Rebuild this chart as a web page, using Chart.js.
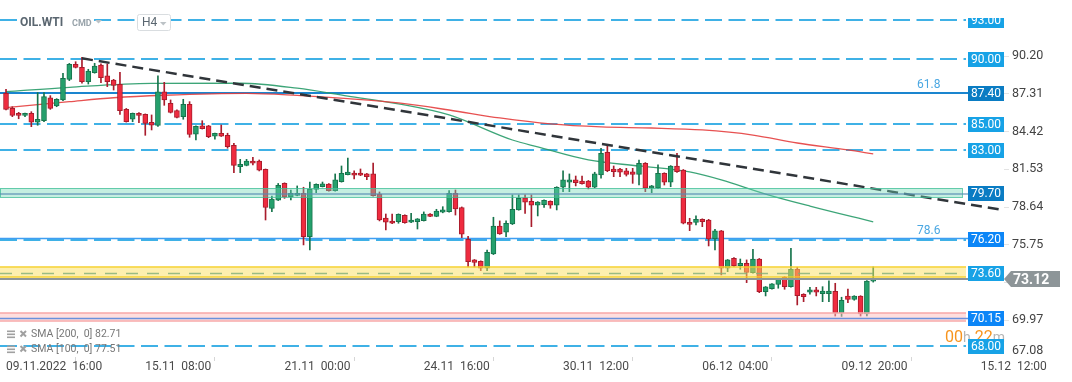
<!DOCTYPE html>
<html><head><meta charset="utf-8">
<script src="https://cdn.jsdelivr.net/npm/chart.js@4.4.0/dist/chart.umd.min.js"></script>
<style>html,body{margin:0;padding:0;background:#fff;}canvas{display:block;}</style>
</head><body>
<canvas id="c" width="1072" height="382"></canvas>
<script>
// ---- data (H4 candles, OIL.WTI) ----
const opens  = [87.36,86.21,85.83,85.67,85.83,85.14,85.26,87.02,86.39,86.85,88.43,89.58,89.35,88.25,88.94,89.53,88.69,88.38,88.05,86.13,85.37,85.83,85.75,85.14,84.89,87.48,86.59,86.04,85.57,86.52,84.22,84.86,84.86,84.07,84.30,84.14,83.38,81.74,81.84,82.17,82.17,81.54,78.53,79.16,80.46,79.44,79.54,79.70,76.37,80.00,80.20,80.41,79.90,80.59,81.12,81.25,81.25,81.18,81.18,79.64,77.80,77.57,77.52,78.01,77.48,77.52,77.60,78.11,77.93,78.24,78.29,79.70,78.60,76.17,74.59,74.49,73.95,75.05,77.19,76.71,77.34,78.42,79.34,79.08,78.78,78.82,79.08,78.78,80.16,80.54,80.72,80.64,80.64,80.16,81.10,82.84,81.56,81.56,81.41,81.35,81.15,82.00,80.08,80.08,81.23,80.54,81.79,81.48,77.48,77.46,77.70,77.65,76.22,76.81,73.95,74.72,74.15,74.33,73.61,74.66,72.16,72.39,72.72,73.28,72.54,73.87,71.96,72.11,72.29,72.00,72.00,72.19,70.52,71.81,71.56,71.81,70.46,72.96];
const highs  = [87.67,86.33,85.90,85.85,85.95,87.41,87.41,87.18,86.95,88.89,89.65,89.78,90.12,89.20,89.66,89.61,89.61,88.43,88.97,86.20,85.85,85.88,85.78,85.70,88.69,88.20,86.85,86.10,86.90,86.72,84.86,85.26,84.90,84.32,84.93,84.30,83.53,82.30,82.30,82.46,82.25,81.56,79.49,80.45,80.50,79.95,80.26,80.16,80.56,80.42,80.56,80.45,81.18,81.79,82.40,81.41,81.56,81.22,82.02,79.80,78.11,78.11,78.12,78.05,78.16,77.76,78.27,78.15,78.47,78.67,79.90,79.95,78.65,76.40,74.62,74.52,75.35,77.86,77.58,77.58,79.57,79.57,79.57,79.57,79.06,79.20,79.12,80.20,81.41,81.18,81.02,81.02,80.68,81.31,83.15,83.40,81.79,81.60,81.61,81.61,82.25,82.05,80.30,81.87,81.27,81.82,82.76,81.52,77.78,77.96,77.74,77.70,76.94,76.85,74.62,74.76,74.66,74.59,75.41,74.70,72.55,72.78,73.18,73.32,75.48,74.03,72.00,72.49,72.49,72.54,72.98,72.80,71.73,72.35,71.85,71.85,73.00,74.05];
const lows   = [86.08,85.57,85.41,85.57,84.80,84.91,85.18,86.13,86.33,86.79,88.33,89.30,88.13,88.07,88.90,88.17,87.87,87.61,85.75,85.15,85.18,85.11,84.14,84.55,84.82,86.44,85.85,85.48,85.37,83.99,83.78,84.62,83.96,83.84,84.05,83.15,81.28,81.28,81.80,81.87,81.41,77.65,78.29,79.14,79.31,79.18,79.50,75.74,75.35,79.74,80.18,79.86,79.86,80.55,81.10,80.79,81.05,80.74,79.48,77.58,76.89,77.37,77.40,77.40,77.45,76.96,77.57,77.90,77.90,78.20,78.25,78.03,76.30,74.05,74.05,73.77,73.77,75.00,76.55,76.37,77.30,78.40,78.16,77.14,77.96,78.62,78.55,78.42,79.82,79.82,80.26,80.40,80.03,80.12,80.85,81.35,80.97,80.97,81.02,80.46,80.33,79.82,79.74,80.05,80.33,80.20,81.30,77.35,76.83,77.27,77.14,75.66,75.35,73.44,73.69,74.10,73.87,72.85,73.58,72.08,71.83,72.34,72.42,72.34,72.50,71.14,71.39,71.96,71.83,71.39,71.39,70.29,70.26,71.31,71.50,70.29,70.29,72.89];
const closes = [86.13,85.67,85.67,85.83,85.14,85.37,87.10,86.21,86.90,88.51,89.58,89.35,88.25,89.07,89.45,88.56,88.25,87.97,86.03,85.18,85.83,85.67,85.06,84.91,87.48,86.85,85.90,85.52,86.52,84.20,84.82,84.65,84.03,84.30,84.07,83.27,81.84,81.92,82.17,82.00,81.46,78.61,79.26,80.30,79.41,79.70,79.70,76.37,80.00,80.39,80.43,79.90,80.72,81.23,81.33,81.08,81.08,80.97,79.51,77.65,77.48,77.40,78.09,77.44,77.65,77.73,78.11,77.93,78.34,78.42,79.70,78.49,76.56,74.46,74.40,73.95,75.18,77.19,76.58,77.40,78.47,79.31,79.01,78.78,79.03,79.16,78.78,80.16,80.72,80.72,80.51,80.43,80.16,81.18,82.76,81.43,81.35,81.31,81.15,81.15,82.00,80.08,80.26,81.23,80.54,81.79,81.35,77.40,77.32,77.70,77.52,76.20,76.81,73.95,74.59,74.13,74.33,73.64,74.66,72.16,72.52,72.75,73.15,72.54,73.87,71.85,71.77,72.29,72.11,72.21,72.21,70.52,71.50,71.56,71.81,70.46,72.96,73.12];

// SMA readings (candle index, value)
const sma100Idx = [0,10,23,37,46,54,62,70,80,84,92,100,108,113,120,127,137];
const sma100Val = [87.48,87.82,88.12,88.13,87.75,87.15,86.55,85.70,83.78,83.25,82.25,81.79,81.33,80.72,79.64,78.72,77.51];
const sma200Idx = [0,10,17,25,38,46,54,62,70,78,86,94,102,110,118,125,133,137];
const sma200Val = [86.26,86.72,87.02,87.21,87.36,87.20,86.95,86.62,86.08,85.47,85.01,84.78,84.70,84.55,84.16,83.55,83.02,82.71];

// trend line (candle index, value)
const trendIdx = [12, 157.5];
const trendVal = [90.04, 78.42];

// x tick labels
const xTickIdx = [0,22,44,66,88,110,132,154];
const xTickLabels = ['09.11.2022  16:00','15.11  08:00','21.11  00:00','24.11  16:00','30.11  12:00','06.12  04:00','09.12  20:00','15.12  12:00'];
// y tick labels
const yTicks = [90.20,87.31,84.42,81.53,78.64,75.75,72.86,69.97];
const yTickLow = 67.08;

// price levels
const dashedLevels = [93.00, 90.00, 85.00, 83.00, 68.00];
const solidLevel = 87.40;
const level762 = 76.20;
const zoneGreen = [79.39, 80.08, 79.70];
const zoneYellow = [73.31, 74.01, 73.60];
const zonePink = [69.95, 70.53, 70.15];
const lastPrice = 73.12;
const fibLabels = [['61.8', 87.40], ['78.6', 76.20]];
const legendRows = ['SMA [200,  0] 82.71', 'SMA [100,  0] 77.51'];

// ---- chart ----
const GREEN = '#24a06c', GREEN_D = '#16744c', RED = '#ef2b3f', RED_D = '#a91c2c';
const up = opens.map((o,i)=>closes[i] >= o);
const bodyData = opens.map((o,i)=>({x:i, y:[o, closes[i]]}));
const wickData = highs.map((h,i)=>({x:i, y:[lows[i], h]}));
const pts = (a,b)=>a.map((x,i)=>({x, y:b[i]}));

const FONT = 'Roboto';

function boxLabel(ctx, yy, text, color) {
  ctx.fillStyle = color;
  ctx.fillRect(968, Math.round(yy) - 7, 36, 15);
  ctx.fillStyle = '#ffffff';
  ctx.font = '12px ' + FONT;
  ctx.textAlign = 'center'; ctx.textBaseline = 'middle';
  ctx.fillText(text, 986, Math.round(yy) + 1);
}

const overlay = {
  id: 'overlay',
  beforeDatasetsDraw(chart) {
    const {ctx, chartArea:ca} = chart; const Y = v => chart.scales.y.getPixelForValue(v);
    ctx.save();
    ctx.beginPath(); ctx.rect(ca.left, ca.top, ca.width, ca.height); ctx.clip();
    ctx.lineWidth = 2; ctx.strokeStyle = '#3fb1e6'; ctx.setLineDash([17, 6.5]);
    dashedLevels.forEach(v => { const y = Math.round(Y(v)); ctx.beginPath(); ctx.moveTo(0, y); ctx.lineTo(966, y); ctx.stroke(); });
    let y = Math.round(Y(level762));
    ctx.beginPath(); ctx.moveTo(0, y + 1); ctx.lineTo(966, y + 1); ctx.stroke();
    ctx.setLineDash([]);
    ctx.lineWidth = 1.5; ctx.strokeStyle = '#3f9ef2';
    ctx.beginPath(); ctx.moveTo(0, y - 0.5); ctx.lineTo(968, y - 0.5); ctx.stroke();
    y = Math.round(Y(solidLevel));
    ctx.lineWidth = 2; ctx.strokeStyle = '#1a85cf';
    ctx.beginPath(); ctx.moveTo(0, y); ctx.lineTo(968, y); ctx.stroke();
    ctx.restore();
  },
  afterDatasetsDraw(chart) {
    const {ctx, chartArea:ca} = chart; const Y = v => chart.scales.y.getPixelForValue(v);
    ctx.save();
    ctx.beginPath(); ctx.rect(ca.left, ca.top, ca.width, ca.height); ctx.clip();
    let t = Y(zoneGreen[1]), b = Y(zoneGreen[0]);
    ctx.fillStyle = 'rgba(110,215,180,0.4)'; ctx.fillRect(0, t, 962, b - t);
    ctx.strokeStyle = 'rgba(60,190,150,0.75)'; ctx.lineWidth = 1;
    ctx.strokeRect(0.5, Math.round(t) + 0.5, 962, Math.round(b - t));
    ctx.strokeStyle = 'rgba(85,140,180,0.75)'; ctx.lineWidth = 1.5;
    let y = Math.round(Y(zoneGreen[2])) + 1;
    ctx.beginPath(); ctx.moveTo(0, y); ctx.lineTo(968, y); ctx.stroke();
    t = Y(zoneYellow[1]); b = Y(zoneYellow[0]);
    ctx.fillStyle = 'rgba(252,224,95,0.5)'; ctx.fillRect(0, t, 966, b - t);
    ctx.strokeStyle = '#f6d12c'; ctx.lineWidth = 1.5;
    ctx.beginPath(); ctx.moveTo(0, Math.round(t)); ctx.lineTo(966, Math.round(t)); ctx.moveTo(0, Math.round(b)); ctx.lineTo(966, Math.round(b)); ctx.stroke();
    ctx.strokeStyle = 'rgba(130,175,120,0.8)'; ctx.lineWidth = 1.5; ctx.setLineDash([12, 9]);
    y = Math.round(Y(zoneYellow[2])) + 0.5;
    ctx.beginPath(); ctx.moveTo(0, y); ctx.lineTo(966, y); ctx.stroke();
    ctx.setLineDash([]);
    y = Math.round(Y(lastPrice));
    ctx.strokeStyle = '#8d9598'; ctx.lineWidth = 2;
    ctx.beginPath(); ctx.moveTo(0, y); ctx.lineTo(1004, y); ctx.stroke();
    t = Y(zonePink[1]); b = Y(zonePink[0]);
    ctx.fillStyle = 'rgba(255,190,190,0.5)'; ctx.fillRect(0, t, 966, b - t);
    ctx.strokeStyle = '#f7a9a9'; ctx.lineWidth = 1.5;
    ctx.beginPath(); ctx.moveTo(0, Math.round(t)); ctx.lineTo(966, Math.round(t)); ctx.moveTo(0, Math.round(b) + 1); ctx.lineTo(966, Math.round(b) + 1); ctx.stroke();
    y = Math.round(Y(zonePink[2])) + 0.5;
    ctx.strokeStyle = '#6a90dc'; ctx.lineWidth = 1.5;
    ctx.beginPath(); ctx.moveTo(0, y); ctx.lineTo(968, y); ctx.stroke();
    ctx.restore();
  },
  afterDraw(chart) {
    const {ctx} = chart; const Y = v => chart.scales.y.getPixelForValue(v);
    ctx.save();
    ctx.font = '12px ' + FONT; ctx.fillStyle = '#4aa7e2'; ctx.textAlign = 'left'; ctx.textBaseline = 'middle';
    fibLabels.forEach(([txt, v]) => ctx.fillText(txt, 917, Math.round(Y(v)) - 8));
    ctx.textBaseline = 'alphabetic';
    let cx = 945;
    [['00','#f7941d',16],['h','#b5b5b5',14],[' 22','#f7941d',16],['m','#b5b5b5',14]].forEach(([s,c,f])=>{
      ctx.font = f + 'px ' + FONT; ctx.fillStyle = c; ctx.fillText(s, cx, 342); cx += ctx.measureText(s).width;
    });
    ctx.save(); ctx.beginPath(); ctx.rect(960, 18, 60, 20); ctx.clip();
    boxLabel(ctx, Y(93.00), '93.00', '#17a2e6'); ctx.restore();
    boxLabel(ctx, Y(90.00), '90.00', '#17a2e6');
    boxLabel(ctx, Y(87.40), '87.40', '#0a7cc3');
    boxLabel(ctx, Y(85.00), '85.00', '#17a2e6');
    boxLabel(ctx, Y(83.00), '83.00', '#17a2e6');
    boxLabel(ctx, Y(79.70), '79.70', '#0a7cc3');
    boxLabel(ctx, Y(76.20), '76.20', '#0c86f7');
    boxLabel(ctx, Y(73.60), '73.60', '#17a2e6');
    boxLabel(ctx, Y(70.15), '70.15', '#0c86f7');
    boxLabel(ctx, Y(68.00), '68.00', '#17a2e6');
    const ca = chart.chartArea;
    ctx.font = '12.5px ' + FONT; ctx.fillStyle = '#444'; ctx.textAlign = 'left'; ctx.textBaseline = 'middle';
    ctx.fillText(yTickLow.toFixed(2), 1012, Math.min(Y(yTickLow), ca.bottom - 6));
    const py = Math.round(Y(lastPrice));
    ctx.fillStyle = '#8d9598';
    ctx.beginPath(); ctx.moveTo(1004, py); ctx.lineTo(1011, py - 8); ctx.lineTo(1060, py - 8); ctx.lineTo(1060, py + 8); ctx.lineTo(1011, py + 8); ctx.closePath(); ctx.fill();
    ctx.fillStyle = '#fff'; ctx.font = 'bold 14px ' + FONT; ctx.textAlign = 'left'; ctx.textBaseline = 'middle';
    ctx.fillText(lastPrice.toFixed(2), 1013, py + 1);
    ctx.fillStyle = '#fff'; ctx.fillRect(17, 12, 76, 16);
    ctx.fillStyle = '#5a6670'; ctx.font = 'bold 12px ' + FONT; ctx.textAlign = 'left'; ctx.textBaseline = 'middle';
    ctx.fillText('OIL.WTI', 20, 23);
    ctx.fillStyle = '#98a3aa'; ctx.font = 'bold 9px ' + FONT; ctx.fillText('CMD', 72, 24);
    ctx.fillStyle = '#bcc2c6';
    ctx.beginPath(); ctx.moveTo(95, 20); ctx.lineTo(102, 20); ctx.lineTo(98.5, 23.5); ctx.closePath(); ctx.fill();
    ctx.fillStyle = '#fff'; ctx.strokeStyle = '#d9dde0'; ctx.lineWidth = 1;
    ctx.beginPath(); ctx.roundRect(137.5, 14.5, 33, 16, 2); ctx.fill(); ctx.stroke();
    ctx.fillStyle = '#5a6670'; ctx.font = '12px ' + FONT; ctx.fillText('H4', 142, 23);
    ctx.fillStyle = '#bcc2c6';
    ctx.beginPath(); ctx.moveTo(160, 22); ctx.lineTo(166.5, 22); ctx.lineTo(163.25, 25.5); ctx.closePath(); ctx.fill();
    legendRows.forEach((txt, k) => {
      const ly = 334.5 + k * 15;
      ctx.fillStyle = '#a0a0a0';
      ctx.fillRect(7, ly - 4, 8, 1.6); ctx.fillRect(7, ly - 1, 8, 1.6); ctx.fillRect(7, ly + 2, 8, 1.6);
      ctx.strokeStyle = '#a0a0a0'; ctx.lineWidth = 2;
      ctx.beginPath(); ctx.moveTo(20.5, ly - 3.5); ctx.lineTo(26, ly + 2); ctx.moveTo(26, ly - 3.5); ctx.lineTo(20.5, ly + 2); ctx.stroke();
      ctx.fillStyle = '#777'; ctx.font = '10.5px ' + FONT; ctx.textBaseline = 'middle';
      ctx.fillText(txt, 31, ly);
    });
    ctx.restore();
  }
};

new Chart(document.getElementById('c'), {
  type: 'bar',
  data: {
    datasets: [
      { type:'line', data: pts(trendIdx, trendVal), borderColor:'#30353a', borderWidth:2.5, borderDash:[11,6], pointRadius:0, order:0 },
      { type:'bar', data: bodyData, backgroundColor: up.map(u=>u?GREEN:RED), borderColor: up.map(u=>u?GREEN_D:RED_D), borderWidth:1, borderSkipped:false, barThickness:5, grouped:false, order:1 },
      { type:'bar', data: wickData, backgroundColor: up.map(u=>u?GREEN_D:RED_D), borderWidth:0, barThickness:1, grouped:false, order:2 },
      { type:'line', data: pts(sma200Idx, sma200Val), borderColor:'rgba(228,62,62,0.9)', borderWidth:1.3, pointRadius:0, cubicInterpolationMode:'monotone', order:3 },
      { type:'line', data: pts(sma100Idx, sma100Val), borderColor:'rgba(40,155,105,0.9)', borderWidth:1.3, pointRadius:0, cubicInterpolationMode:'monotone', order:3 }
    ]
  },
  options: {
    responsive:false, animation:false, devicePixelRatio:1,
    layout:{ padding:0 },
    plugins:{ legend:{display:false}, tooltip:{enabled:false} },
    scales:{
      x:{ type:'linear', min:-0.95, max:157.66, offset:false,
        afterBuildTicks: s => { s.ticks = xTickIdx.map(v=>({value:v})); },
        afterFit: s => { s.height = 25; s.paddingLeft = 0; s.paddingRight = 0; },
        ticks:{ autoSkip:false, maxRotation:0, align:'start', padding:-1, color:'#4a4a4a', font:{family:FONT, size:12},
          callback: v => { const k = xTickIdx.indexOf(v); return k >= 0 ? xTickLabels[k] : ''; } },
        grid:{ drawOnChartArea:false, drawTicks:true, tickLength:4, color:'#d6d6d6' },
        border:{ display:false } },
      y:{ position:'right', min:67.15, max:94.51,
        afterBuildTicks: s => { s.ticks = yTicks.map(v=>({value:v})); },
        afterFit: s => { s.width = 68; s.paddingTop = 0; s.paddingBottom = 0; },
        ticks:{ autoSkip:false, padding:3, color:'#444', font:{family:FONT, size:12.5}, callback: v => v.toFixed(2) },
        grid:{ drawOnChartArea:false, drawTicks:true, tickLength:5, color:'#e3e3e3' },
        border:{ display:false } }
    }
  },
  plugins:[overlay]
});
</script>
</body></html>
